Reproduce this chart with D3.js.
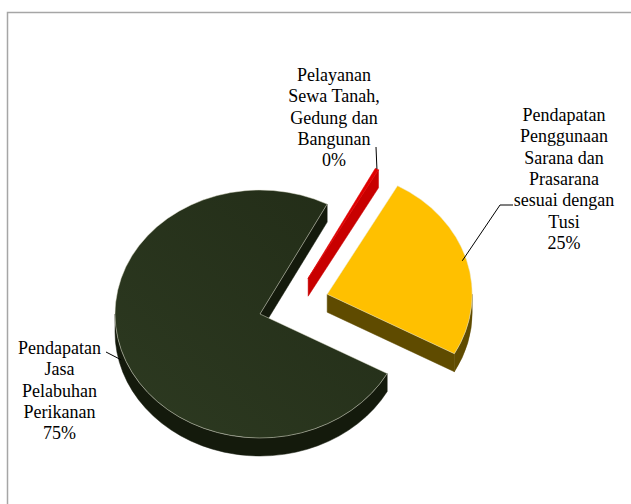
<!DOCTYPE html>
<html><head><meta charset="utf-8">
<script src="https://cdn.jsdelivr.net/npm/d3@7"></script>
<style>body{margin:0;background:#fff} svg{display:block}</style>
</head><body>
<svg id="c" width="631" height="504"></svg>
<script>
// ---- data ----
const categories = [
  "Pelayanan Sewa Tanah, Gedung dan Bangunan",
  "Pendapatan Penggunaan Sarana dan Prasarana sesuai dengan Tusi",
  "Pendapatan Jasa Pelabuhan Perikanan"
];
const values = [0.4, 25, 75];
const labelLines = [
  ["Pelayanan", "Sewa Tanah,", "Gedung dan", "Bangunan"],
  ["Pendapatan", "Penggunaan", "Sarana dan", "Prasarana", "sesuai dengan", "Tusi"],
  ["Pendapatan", "Jasa", "Pelabuhan", "Perikanan"]
];

// ---- style / layout ----
const topColors = ["#e00000", "#ffc000", "#27311c"];
const sideColors = ["#c80000", "#5f4b00", "#141a0c"];
const explodeAngleDeg = [49, 71, 0];
const explodeDist = [0.44, 0.49, 0];
const startDeg = 27.6;
const cx = 260, cy = 314, rx = 145, ry = 124, depth = 18;
const labelPos = [
  {x: 334, y: 81, lead: [[376, 147]]},
  {x: 564, y: 121, lead: [[500, 205], [513, 205]]},
  {x: 59.5, y: 354, lead: [[106, 352]]}
];
const lineH = 21.3;
const labelFont = "Liberation Serif, Tinos, Times New Roman, FreeSerif, serif";

const svg = d3.select("#c");
const total = d3.sum(values);
const pct = d3.format(".0%");

// frame
svg.append("path").attr("d", "M7.5,504V12.5H631").attr("fill", "none")
  .attr("stroke", "#a6a6a6").attr("stroke-width", 1.5);

const defs = svg.append("defs");
const g1 = defs.append("linearGradient").attr("id", "gDark")
  .attr("x1", "0%").attr("y1", "100%").attr("x2", "100%").attr("y2", "0%");
g1.append("stop").attr("offset", "0%").attr("stop-color", "#2d3a21");
g1.append("stop").attr("offset", "100%").attr("stop-color", "#222c17");

const pie = d3.pie().sort(null).value(d => d)
  .startAngle(startDeg * Math.PI / 180)
  .endAngle(startDeg * Math.PI / 180 + 2 * Math.PI);
const arcs = pie(values).map((d, i) => {
  const ea = explodeAngleDeg[i] * Math.PI / 180;
  d.ox = rx * explodeDist[i] * Math.sin(ea);
  d.oy = -ry * explodeDist[i] * Math.cos(ea);
  d.i = i;
  return d;
});

function P(d, a, r = 1, z = 0) {
  return [cx + d.ox + rx * r * Math.sin(a), cy + d.oy - ry * r * Math.cos(a) + z];
}
function topPath(d) {
  const c = P(d, 0, 0), p0 = P(d, d.startAngle), p1 = P(d, d.endAngle);
  const large = (d.endAngle - d.startAngle) > Math.PI ? 1 : 0;
  return `M${c}L${p0}A${rx},${ry} 0 ${large} 1 ${p1}Z`;
}
function outerWalls(d) {
  const out = [];
  [[Math.PI / 2, 3 * Math.PI / 2], [5 * Math.PI / 2, 7 * Math.PI / 2]].forEach(([lo, hi]) => {
    const b0 = Math.max(d.startAngle, lo), b1 = Math.min(d.endAngle, hi);
    if (b1 > b0) {
      const t0 = P(d, b0), t1 = P(d, b1), q1 = P(d, b1, 1, depth), q0 = P(d, b0, 1, depth);
      out.push(`M${t0}A${rx},${ry} 0 0 1 ${t1}L${q1}A${rx},${ry} 0 0 0 ${q0}Z`);
    }
  });
  return out;
}
function radialWalls(d) {
  const out = [];
  const c = P(d, 0, 0), cb = P(d, 0, 0, depth);
  if (Math.sin(d.startAngle) < 0) {
    out.push(`M${c}L${P(d, d.startAngle)}L${P(d, d.startAngle, 1, depth)}L${cb}Z`);
  }
  if (Math.sin(d.endAngle) > 0) {
    out.push(`M${c}L${P(d, d.endAngle)}L${P(d, d.endAngle, 1, depth)}L${cb}Z`);
  }
  return out;
}

const gPie = svg.append("g");
arcs.forEach(d => {
  radialWalls(d).concat(outerWalls(d)).forEach(p => {
    gPie.append("path").attr("d", p).attr("fill", sideColors[d.i])
      .attr("stroke", sideColors[d.i]).attr("stroke-width", 0.5);
  });
});
arcs.forEach(d => {
  gPie.append("path").attr("d", topPath(d))
    .attr("fill", d.i === 2 ? "url(#gDark)" : topColors[d.i])
    .attr("stroke", d.i === 0 ? topColors[0] : "#e8e8d8")
    .attr("stroke-opacity", d.i === 0 ? 1 : 0.6)
    .attr("stroke-width", d.i === 0 ? 0.5 : 0.8)
    .attr("stroke-linejoin", "round");
});

const leaderStart = [
  d => P(d, (d.startAngle + d.endAngle) / 2, 1, 0),
  d => P(d, (d.startAngle + d.endAngle) / 2, 0.97, 0),
  d => P(d, (d.startAngle + d.endAngle) / 2, 1, depth * 0.55)
];
arcs.forEach(d => {
  const pts = [leaderStart[d.i](d)].concat(labelPos[d.i].lead);
  svg.append("path").attr("d", d3.line()(pts)).attr("fill", "none")
    .attr("stroke", "#000").attr("stroke-width", 1);
});

const gText = svg.append("g").attr("font-family", labelFont).attr("font-size", 18);
arcs.forEach(d => {
  const lines = labelLines[d.i].concat([pct(d.data / total)]);
  lines.forEach((s, k) => {
    gText.append("text")
      .attr("x", labelPos[d.i].x).attr("y", labelPos[d.i].y + k * lineH)
      .attr("text-anchor", "middle")
      .attr("font-family", labelFont)
      .attr("fill", "#000")
      .text(s);
  });
});
</script>
</body></html>
